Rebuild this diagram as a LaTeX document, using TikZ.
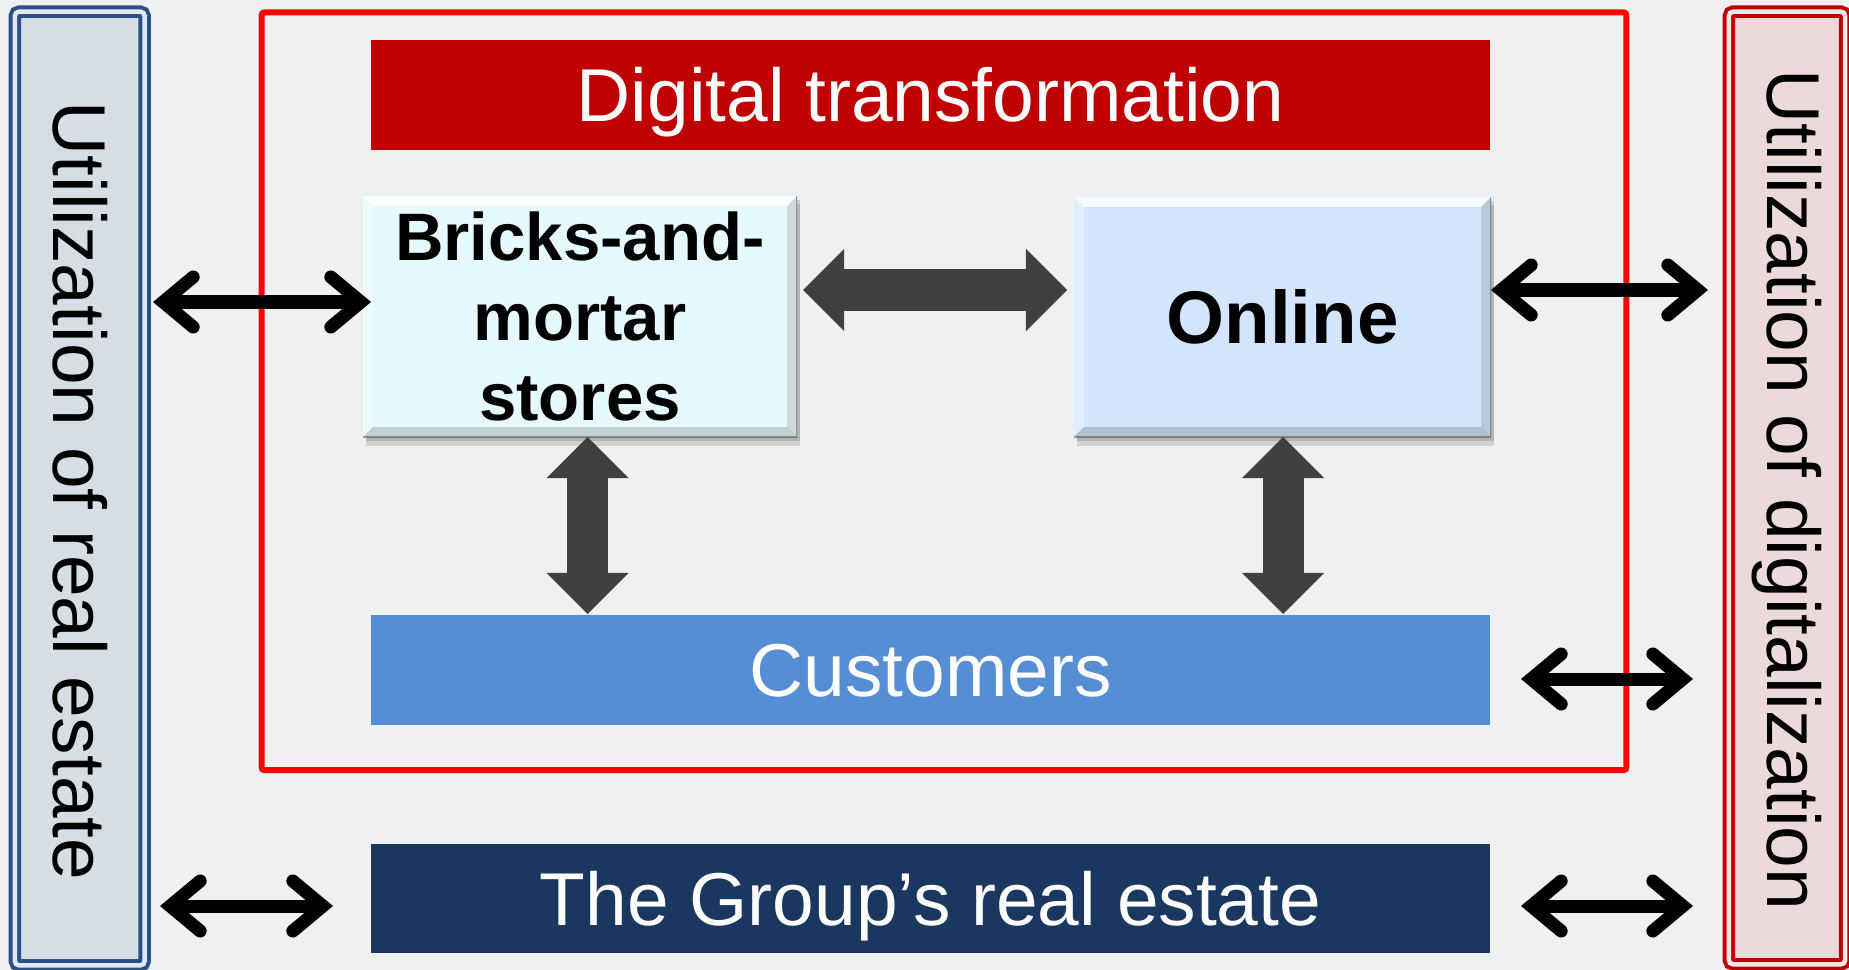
\documentclass[tikz,border=0pt]{standalone}
\usepackage{fontspec}
\setmainfont{Liberation Sans}
\usetikzlibrary{arrows.meta,calc}
\definecolor{bgc}{HTML}{EFF0F2}
\definecolor{lbarfill}{HTML}{D7DDE5}
\definecolor{lbarline}{HTML}{2A5288}
\definecolor{lbargap}{HTML}{E4E8EE}
\definecolor{rbarfill}{HTML}{ECDADB}
\definecolor{rbarline}{HTML}{C00000}
\definecolor{rbargap}{HTML}{F4E9E9}
\definecolor{dtred}{HTML}{C00000}
\definecolor{custblue}{HTML}{558ED5}
\definecolor{groupnavy}{HTML}{1A375F}
\definecolor{brickfill}{HTML}{E6F9FE}
\definecolor{onlinefill}{HTML}{D2E5FC}
\definecolor{arrgrey}{HTML}{404040}
\definecolor{framered}{HTML}{FF0000}
\begin{document}
\begin{tikzpicture}[x=0.01cm, y=-0.01cm,
  every node/.style={inner sep=0pt, outer sep=0pt},
  bigfont/.style={font=\fontsize{21.3pt}{25pt}\selectfont},
  banner/.style={rectangle, bigfont, text=white, minimum width=11.19cm,
    minimum height=1.10cm, text height=0.535cm, text depth=0pt},
  sidebar/.style={rectangle, rounded corners=0.04cm, line width=0.04cm, double distance=0.045cm},
  sidetext/.style={bigfont, rotate=-90, anchor=base},
  bevel/.style={path picture={
    \coordinate (pnw) at (path picture bounding box.north west);
    \coordinate (pne) at (path picture bounding box.north east);
    \coordinate (psw) at (path picture bounding box.south west);
    \coordinate (pse) at (path picture bounding box.south east);
    \fill[white,opacity=.85] (pnw) -- (pne) -- ($(pne)+(-10,10)$) -- ($(pnw)+(10,10)$) -- cycle;
    \fill[white,opacity=.35] (pnw) -- ($(pnw)+(10,10)$) -- ($(psw)+(10,-10)$) -- (psw) -- cycle;
    \fill[black,opacity=.12] (pne) -- (pse) -- ($(pse)+(-10,-10)$) -- ($(pne)+(-10,10)$) -- cycle;
    \fill[black,opacity=.16] (psw) -- (pse) -- ($(pse)+(-10,-10)$) -- ($(psw)+(10,-10)$) -- cycle;
    \draw[black,opacity=.3,line width=0.02cm] (pne) -- (pse) -- (psw);
  }},
  chanbox/.style={rectangle, bevel, align=center,
    preaction={fill=black, fill opacity=.14, transform canvas={xshift=0.8pt, yshift=-1.2pt}},
    preaction={fill=black, fill opacity=.12, transform canvas={xshift=0.8pt, yshift=-2.4pt}}},
  biarrow/.style={line width=0.13cm, draw=black,
    {Straight Barb[length=0.3cm, width=0.5cm, line cap=round, line join=miter]}-{Straight Barb[length=0.3cm, width=0.5cm, line cap=round, line join=miter]}},
  blockarrow/.style={line width=0.41cm, draw=arrgrey,
    {Triangle[length=0.41cm, width=0.82cm, line width=0pt]}-{Triangle[length=0.41cm, width=0.82cm, line width=0pt]}}
]
\useasboundingbox (0,0) rectangle (1849,970);
\fill[bgc] (0,0) rectangle (1849,970);

% red frame
\node[draw=framered, line width=0.06cm, rounded corners=0.03cm,
  minimum width=13.64cm, minimum height=7.575cm] (frame) at (944,391.25) {};

% side bars
\node[sidebar, draw=lbarline, double=lbargap, fill=lbarfill,
  minimum width=1.295cm, minimum height=9.53cm] (lbar) at (79.75,488.5) {};
\node[sidetext] (ltext) at (53,491) {Utilization of real estate};
\node[sidebar, draw=rbarline, double=rbargap, fill=rbarfill,
  minimum width=1.16cm, minimum height=9.52cm] (rbar) at (1787,488) {};
\node[sidetext] (rtext) at (1767,490) {Utilization of digitalization};

% banners
\node[banner, fill=dtred] (dt) at (930.5,95) {Digital transformation};
\node[banner, fill=custblue] (cust) at (930.5,670) {Customers};
\node[banner, fill=groupnavy, minimum height=1.09cm] (group) at (930.5,898.5) {The Group’s real estate};

% channel boxes
\node[chanbox, fill=brickfill, minimum width=4.34cm, minimum height=2.41cm,
  font=\bfseries\fontsize{19.1pt}{22.8pt}\selectfont] (bricks) at (580,316.5) {Bricks-and-\\mortar\\stores};
\node[chanbox, fill=onlinefill, minimum width=4.17cm, minimum height=2.40cm,
  font=\bfseries\fontsize{21.2pt}{25pt}\selectfont] (online) at (1282.5,317) {Online};

% grey block arrows
\coordinate (h1) at (803,290);
\coordinate (h2) at (1067,290);
\coordinate (v1a) at (587.5,437);
\coordinate (v1b) at (587.5,614);
\coordinate (v2a) at (1283,437);
\coordinate (v2b) at (1283,614);
\draw[blockarrow] (h1) -- (h2);
\draw[blockarrow] (v1a) -- (v1b);
\draw[blockarrow] (v2a) -- (v2b);

% black double arrows
\coordinate (a1s) at (153,302);
\coordinate (a1e) at (371,302);
\coordinate (a2s) at (1491,290);
\coordinate (a2e) at (1708,290);
\coordinate (a3s) at (1521,679);
\coordinate (a3e) at (1693,679);
\coordinate (a4s) at (1521,906);
\coordinate (a4e) at (1693,906);
\coordinate (a5s) at (160,906);
\coordinate (a5e) at (333,906);
\draw[biarrow] (a1s) -- (a1e);
\draw[biarrow] (a2s) -- (a2e);
\draw[biarrow] (a3s) -- (a3e);
\draw[biarrow] (a4s) -- (a4e);
\draw[biarrow] (a5s) -- (a5e);
\end{tikzpicture}
\end{document}
